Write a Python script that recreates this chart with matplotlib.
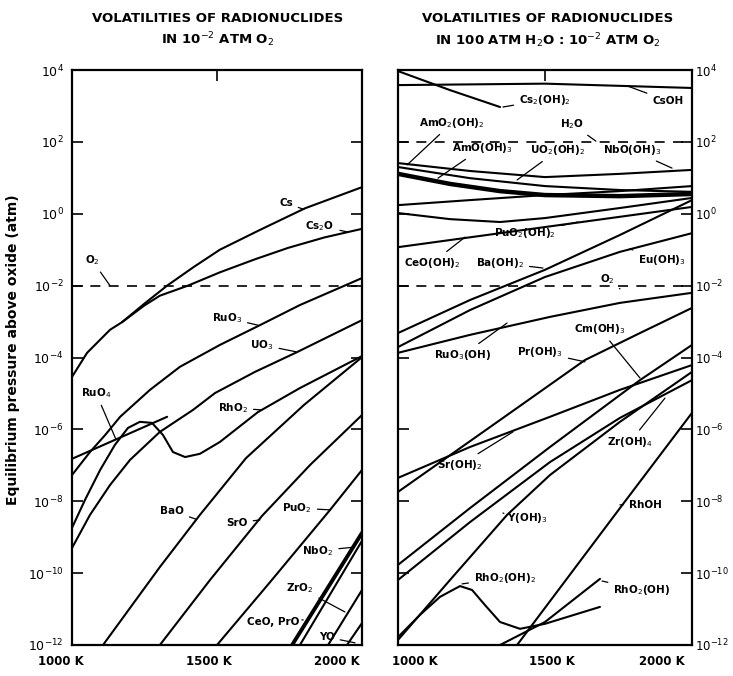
import numpy as np
import matplotlib
matplotlib.use('Agg')
import matplotlib.pyplot as plt

# ---------------- Left panel data: T (K), log10 p (atm) ----------------
cs_T = [1000, 1052, 1131, 1172, 1250, 1328, 1420, 1510, 1648, 1803, 2000]
cs_lp = [-4.54, -3.87, -3.23, -3.02, -2.5, -2.0, -1.48, -1.0, -0.45, 0.15, 0.74]
cs2o_T = [1172, 1250, 1303, 1400, 1510, 1630, 1745, 1870, 2000]
cs2o_lp = [-3.02, -2.55, -2.28, -2.0, -1.63, -1.27, -0.95, -0.66, -0.42]
ruo3_T = [1000, 1062, 1114, 1166, 1269, 1372, 1510, 1648, 1786, 2000]
ruo3_lp = [-7.27, -6.63, -6.16, -5.65, -4.90, -4.26, -3.65, -3.10, -2.54, -1.79]
uo3_T = [1000, 1062, 1131, 1200, 1303, 1417, 1493, 1631, 1776, 2000]
uo3_lp = [-9.30, -8.38, -7.55, -6.85, -6.07, -5.46, -4.99, -4.40, -3.85, -2.96]
rho2_T = [1000, 1045, 1097, 1148, 1193, 1234, 1276, 1314, 1348, 1390, 1441, 1510, 1641, 1786, 2000]
rho2_lp = [-8.74, -7.96, -7.13, -6.43, -5.96, -5.79, -5.82, -6.16, -6.63, -6.77, -6.68, -6.35, -5.52, -4.85, -3.96]
ruo4_T = [1000, 1328]
ruo4_lp = [-6.82, -5.65]
bao_T = [1107, 1303, 1441, 1600, 1800, 2000]
bao_lp = [-12.0, -9.83, -8.38, -6.80, -5.32, -3.99]
sro_T = [1303, 1476, 1655, 1821, 2000]
sro_lp = [-12.0, -10.19, -8.41, -6.99, -5.60]
puo2_T = [1500, 1683, 1890, 2000]
puo2_lp = [-12.0, -10.25, -8.24, -7.13]
nbo2_T = [1759, 2000]
nbo2_lp = [-12.0, -8.88]
ceo_pro_T = [1786, 2000]
ceo_pro_lp = [-12.0, -9.10]
zro2_T = [1883, 2000]
zro2_lp = [-12.0, -10.47]
yo_T = [1948, 2000]
yo_lp = [-12.0, -11.39]
o2_level = -2.0

# ---------------- Right panel data ----------------
cs2oh2_T = [1000, 1177, 1347]
cs2oh2_lp = [3.97, 3.44, 2.97]
csoh_T = [1000, 1500, 2000]
csoh_lp = [3.58, 3.62, 3.50]
nbooh3_T = [1000, 1245, 1500, 1755, 2000]
nbooh3_lp = [1.41, 1.19, 1.02, 1.11, 1.22]
amo2oh2_T = [1000, 1245, 1500, 1755, 2000]
amo2oh2_lp = [1.30, 0.99, 0.77, 0.66, 0.61]
amooh3_T = [1000, 1177, 1347, 1500, 1755, 2000]
amooh3_lp = [1.11, 0.83, 0.63, 0.52, 0.49, 0.55]
uo2oh2_T = [1000, 1245, 1500, 1755, 2000]
uo2oh2_lp = [0.24, 0.38, 0.52, 0.63, 0.77]
puo2oh2_T = [1000, 1177, 1347, 1500, 1755, 2000]
puo2oh2_lp = [0.02, -0.15, -0.23, -0.12, 0.16, 0.44]
ceooh2_T = [1000, 1500, 2000]
ceooh2_lp = [-0.93, -0.37, 0.19]
baoh2_T = [1000, 1245, 1500, 1755, 2000]
baoh2_lp = [-3.32, -2.40, -1.56, -0.59, 0.38]
euoh3_T = [1000, 1245, 1500, 1755, 2000]
euoh3_lp = [-3.71, -2.68, -1.76, -1.06, -0.54]
ruo3oh_T = [1000, 1245, 1517, 1755, 2000]
ruo3oh_lp = [-3.87, -3.37, -2.87, -2.48, -2.20]
proh3_T = [1000, 1347, 1636, 1823, 2000]
proh3_lp = [-7.74, -5.74, -4.07, -3.32, -2.62]
cmoh3_T = [1000, 1245, 1517, 1823, 2000]
cmoh3_lp = [-9.77, -8.19, -6.49, -4.63, -3.65]
zroh4_T = [1000, 1245, 1517, 1755, 2000]
zroh4_lp = [-10.19, -8.58, -6.91, -5.68, -4.63]
sroh2_T = [1000, 1245, 1517, 1755, 2000]
sroh2_lp = [-7.35, -6.49, -5.65, -4.90, -4.21]
yoh3_T = [1000, 1177, 1371, 1517, 1755, 2000]
yoh3_lp = [-11.86, -10.19, -8.38, -7.27, -5.79, -4.40]
rhoh_T = [1405, 1755, 2000]
rhoh_lp = [-12.0, -8.19, -5.54]
rho2oh2_T = [1000, 1075, 1143, 1211, 1252, 1296, 1347, 1415, 1500, 1687]
rho2oh2_lp = [-11.78, -11.16, -10.66, -10.36, -10.47, -10.89, -11.36, -11.55, -11.41, -10.94]
rho2oh_T = [1347, 1500, 1687]
rho2oh_lp = [-12.0, -11.36, -10.16]
h2o_level = 2.0

ytick_exp = [4, 2, 0, -2, -4, -6, -8, -10, -12]
xticks = [1000, 1500, 2000]
xtick_labels = ['1000 K', '1500 K', '2000 K']

W, H = 733, 676
fig = plt.figure(figsize=(W / 100, H / 100), dpi=100)
axL = fig.add_axes([72 / W, 1 - 645 / H, 290 / W, 575 / H])
axR = fig.add_axes([398 / W, 1 - 645 / H, 294 / W, 575 / H])

LW = 1.5

def curve(ax, T, lp, lw=LW):
    ax.plot(T, 10.0 ** np.asarray(lp), color='black', lw=lw, solid_capstyle='round')

def label(ax, text, xt, lpt, xtip, lptip, fs=7.5):
    ax.annotate(text, xy=(xtip, 10.0 ** lptip), xytext=(xt, 10.0 ** lpt),
                ha='center', va='center', fontsize=fs, fontweight='bold',
                arrowprops=dict(arrowstyle='-', lw=0.9, color='black',
                                shrinkA=2, shrinkB=0))

for ax in (axL, axR):
    ax.set_yscale('log')
    ax.set_xlim(1000, 2000)
    ax.set_ylim(1e-12, 1e4)
    ax.set_xticks(xticks)
    ax.set_xticklabels([])
    ax.set_yticks([10.0 ** e for e in ytick_exp])
    ax.set_yticklabels(['10$^{%d}$' % e for e in ytick_exp], fontsize=9)
    ax.yaxis.set_minor_locator(matplotlib.ticker.NullLocator())
    ax.tick_params(axis='y', direction='in', length=8, width=1.2, left=True, right=True)
    ax.tick_params(axis='x', direction='in', length=8, width=1.2, top=True, bottom=False)
    for s in ax.spines.values():
        s.set_linewidth(1.6)

axL.tick_params(axis='y', labelleft=True, labelright=False, pad=6)
axR.tick_params(axis='y', labelleft=False, labelright=True, pad=2, labelsize=8.5)

# x tick labels placed under each panel
for ax, shifts in ((axL, (-8, -6, -18)), (axR, (12, 5, -22))):
    for t, lab, dx in zip(xticks, xtick_labels, shifts):
        ax.annotate(lab, xy=(t, 1e-12), xytext=(dx, -12), textcoords='offset points',
                    ha='center', va='center', fontsize=8.5, fontweight='bold',
                    annotation_clip=False)

# ---------- left panel ----------
axL.axhline(10.0 ** o2_level, color='black', lw=1.2, ls=(0, (6, 5)))
for T, lp in [(cs_T, cs_lp), (cs2o_T, cs2o_lp), (ruo3_T, ruo3_lp), (uo3_T, uo3_lp),
              (rho2_T, rho2_lp), (ruo4_T, ruo4_lp), (bao_T, bao_lp), (sro_T, sro_lp),
              (puo2_T, puo2_lp), (zro2_T, zro2_lp), (yo_T, yo_lp), (ceo_pro_T, ceo_pro_lp)]:
    curve(axL, T, lp)
curve(axL, nbo2_T, nbo2_lp, lw=2.8)

label(axL, 'Cs', 1738, 0.30, 1800, 0.12)
label(axL, 'Cs$_2$O', 1855, -0.34, 1952, -0.51)
label(axL, 'O$_2$', 1069, -1.29, 1131, -2.0)
label(axL, 'RuO$_3$', 1534, -2.90, 1641, -3.1)
label(axL, 'UO$_3$', 1655, -3.65, 1772, -3.84)
label(axL, 'RuO$_4$', 1083, -4.99, 1150, -6.25)
label(axL, 'RhO$_2$', 1555, -5.40, 1655, -5.46)
label(axL, 'BaO', 1345, -8.27, 1428, -8.5)
label(axL, 'SrO', 1569, -8.60, 1648, -8.52)
label(axL, 'PuO$_2$', 1776, -8.19, 1890, -8.24)
label(axL, 'NbO$_2$', 1848, -9.38, 1969, -9.28)
label(axL, 'ZrO$_2$', 1786, -10.41, 1941, -11.08)
label(axL, 'CeO, PrO', 1693, -11.36, 1797, -11.30)
label(axL, 'YO', 1879, -11.78, 1976, -11.94)

# ---------- right panel ----------
axR.axhline(10.0 ** h2o_level, color='black', lw=1.2, ls=(0, (6, 5)))
axR.axhline(10.0 ** o2_level, color='black', lw=1.2, ls=(0, (6, 5)))
for T, lp in [(cs2oh2_T, cs2oh2_lp), (csoh_T, csoh_lp), (nbooh3_T, nbooh3_lp),
              (amo2oh2_T, amo2oh2_lp), (uo2oh2_T, uo2oh2_lp), (puo2oh2_T, puo2oh2_lp),
              (ceooh2_T, ceooh2_lp), (baoh2_T, baoh2_lp), (euoh3_T, euoh3_lp),
              (ruo3oh_T, ruo3oh_lp), (proh3_T, proh3_lp), (cmoh3_T, cmoh3_lp),
              (zroh4_T, zroh4_lp), (sroh2_T, sroh2_lp), (yoh3_T, yoh3_lp),
              (rhoh_T, rhoh_lp), (rho2oh2_T, rho2oh2_lp), (rho2oh_T, rho2oh_lp)]:
    curve(axR, T, lp)
curve(axR, amooh3_T, amooh3_lp, lw=3.2)

label(axR, 'Cs$_2$(OH)$_2$', 1500, 3.17, 1357, 2.97)
label(axR, 'CsOH', 1918, 3.14, 1782, 3.55)
label(axR, 'AmO$_2$(OH)$_2$', 1184, 2.53, 1031, 1.36)
label(axR, 'H$_2$O', 1592, 2.50, 1673, 2.02)
label(axR, 'AmO(OH)$_3$', 1286, 1.83, 1136, 0.99)
label(axR, 'UO$_2$(OH)$_2$', 1544, 1.77, 1405, 0.94)
label(axR, 'NbO(OH)$_3$', 1796, 1.77, 1932, 1.27)
label(axR, 'PuO$_2$(OH)$_2$', 1432, -0.54, 1612, -0.23)
label(axR, 'CeO(OH)$_2$', 1116, -1.37, 1228, -0.65)
label(axR, 'Ba(OH)$_2$', 1347, -1.37, 1493, -1.51)
label(axR, 'O$_2$', 1711, -1.82, 1755, -2.09)
label(axR, 'Eu(OH)$_3$', 1898, -1.29, 1789, -0.98)
label(axR, 'Cm(OH)$_3$', 1687, -3.21, 1823, -4.57)
label(axR, 'RuO$_3$(OH)', 1221, -3.93, 1371, -3.04)
label(axR, 'Pr(OH)$_3$', 1483, -3.85, 1636, -4.12)
label(axR, 'Sr(OH)$_2$', 1211, -6.99, 1391, -6.07)
label(axR, 'Zr(OH)$_4$', 1789, -6.35, 1908, -5.13)
label(axR, 'Y(OH)$_3$', 1439, -8.47, 1357, -8.33)
label(axR, 'RhOH', 1840, -8.10, 1755, -8.10)
label(axR, 'RhO$_2$(OH)$_2$', 1364, -10.13, 1218, -10.30)
label(axR, 'RhO$_2$(OH)', 1830, -10.47, 1694, -10.22)

# titles and axis label
fig.text(218 / W, 1 - 18 / H, 'VOLATILITIES OF RADIONUCLIDES', ha='center', va='center',
         fontsize=9.5, fontweight='bold')
fig.text(218 / W, 1 - 40 / H, 'IN 10$^{-2}$ ATM O$_2$', ha='center', va='center',
         fontsize=9.5, fontweight='bold')
fig.text(548 / W, 1 - 18 / H, 'VOLATILITIES OF RADIONUCLIDES', ha='center', va='center',
         fontsize=9.5, fontweight='bold')
fig.text(548 / W, 1 - 41 / H, 'IN 100 ATM H$_2$O : 10$^{-2}$ ATM O$_2$', ha='center', va='center',
         fontsize=9.5, fontweight='bold')
fig.text(13 / W, 1 - 350 / H, 'Equilibrium pressure above oxide (atm)', rotation=90,
         ha='center', va='center', fontsize=10, fontweight='bold')

fig.savefig('out.png', dpi=100)
